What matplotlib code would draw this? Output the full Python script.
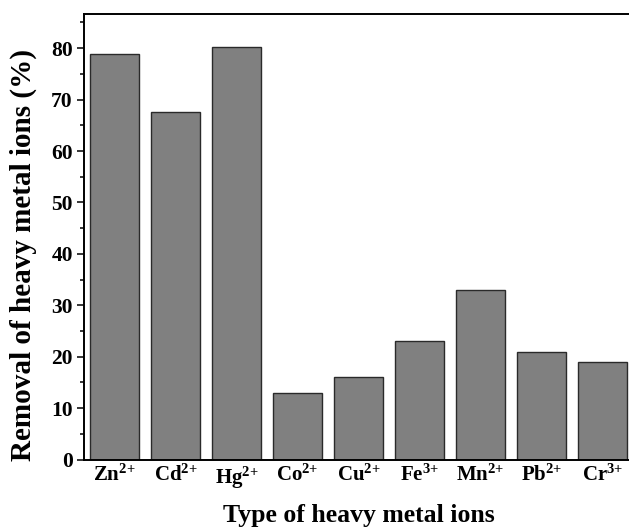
import matplotlib
matplotlib.use('Agg')
import matplotlib.pyplot as plt
from matplotlib.ticker import MultipleLocator

# data
ions = ['Zn', 'Cd', 'Hg', 'Co', 'Cu', 'Fe', 'Mn', 'Pb', 'Cr']
charges = ['2', '2', '2', '2', '2', '3', '2', '2', '3']
removal = [78.8, 67.6, 80.3, 13.0, 16.0, 23.0, 33.0, 21.0, 19.0]

plt.rcParams['font.family'] = 'Liberation Serif'
plt.rcParams['font.weight'] = 'bold'
plt.rcParams['mathtext.fontset'] = 'custom'
plt.rcParams['mathtext.rm'] = 'Liberation Serif:bold'
plt.rcParams['mathtext.bf'] = 'Liberation Serif:bold'
plt.rcParams['mathtext.it'] = 'Liberation Serif:bold:italic'

fig = plt.figure(figsize=(6.29, 5.27), dpi=100)
# right edge of the axes runs past the figure, as in the reference
ax = fig.add_axes([0.1335, 0.128, 0.873, 0.846])

x = list(range(len(ions)))
ax.bar(x, removal, width=0.8, color='#808080', edgecolor='#2a2a2a', linewidth=1.0)

# superscript charge, "+" in braces so mathtext does not pad it like an operator
labels = [f'{ion}$^{{\\mathrm{{{c}}}{{+}}}}$' for ion, c in zip(ions, charges)]
ax.set_xticks(x)
ax.set_xticklabels(labels, fontsize=15, fontweight='bold')
ax.set_xlim(-0.5, 8.5)
ax.set_ylim(0, 86.7)

ax.yaxis.set_major_locator(MultipleLocator(10))
ax.yaxis.set_minor_locator(MultipleLocator(5))
ax.tick_params(axis='y', which='major', direction='out', length=5, width=1.1,
               labelsize=15.5, pad=3)
ax.tick_params(axis='y', which='minor', direction='out', length=3, width=1.1)
ax.tick_params(axis='x', which='both', length=0, pad=4)
for lab in ax.get_yticklabels():
    lab.set_fontweight('bold')

for s in ax.spines.values():
    s.set_linewidth(1.4)

ax.set_xlabel('Type of heavy metal ions', fontsize=18.5, fontweight='bold', labelpad=9)
ax.set_ylabel('Removal of heavy metal ions (%)', fontsize=21, fontweight='bold')
ax.yaxis.set_label_coords(-0.085, 0.458)

fig.savefig('out.png', dpi=100)
